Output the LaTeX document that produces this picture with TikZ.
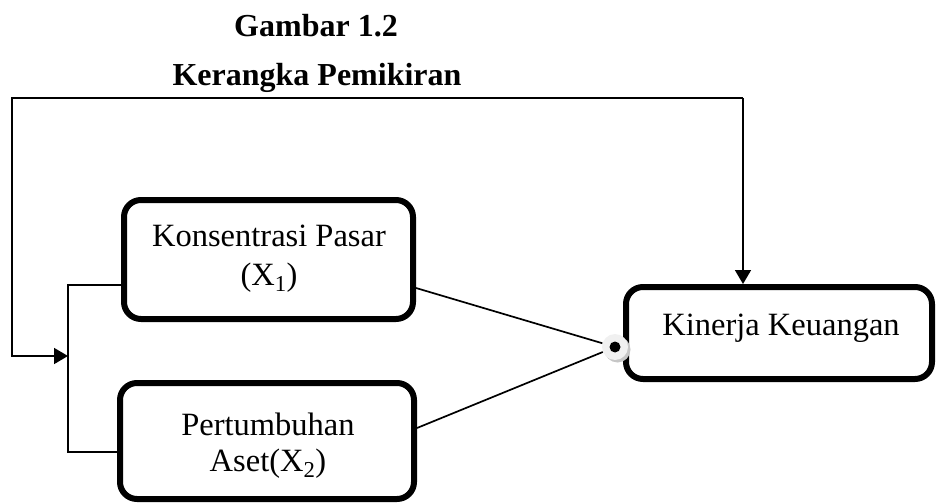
\documentclass[tikz,border=0pt]{standalone}
\usepackage{fontspec}
\setmainfont{Liberation Serif}
\usetikzlibrary{arrows.meta}
\tikzset{
  bigfont/.style={font=\fontsize{32.5}{38}\selectfont},
  box/.style={draw, line width=6pt, rounded corners=17pt, inner sep=0pt},
  txt/.style={bigfont, inner sep=0pt, anchor=base},
  ttl/.style={font=\fontsize{32}{38}\selectfont\bfseries, inner sep=0pt, anchor=base},
  conn/.style={line width=1.7pt},
  tip/.style={-{Triangle[length=14pt,width=16pt]}}
}
\begin{document}
\begin{tikzpicture}[x=1pt,y=-1pt]
\useasboundingbox (0,0) rectangle (938,503);
% titles
\node[ttl] (t1) at (316,37) {Gambar 1.2};
\node[ttl] (t2) at (317,86) {Kerangka Pemikiran};
% boxes
\node[box, minimum width=289pt, minimum height=119pt] (k1) at (268.5,259.5) {};
\node[box, minimum width=294pt, minimum height=116pt] (k2) at (267,441) {};
\node[box, minimum width=306pt, minimum height=92pt] (k3) at (779,333) {};
% texts
\node[txt] (k1a) at (269,246) {Konsentrasi Pasar};
\node[txt] (k1b) at (269,285) {(X\textsubscript{1})};
\node[txt] (k2a) at (268,435) {Pertumbuhan};
\node[txt] (k2b) at (268,471) {Aset(X\textsubscript{2})};
\node[txt] (k3a) at (781,335) {Kinerja Keuangan};
% coordinates
\coordinate (tr) at (743,98);
\coordinate (tl) at (12,98);
\coordinate (bl) at (12,356);
\coordinate (jn) at (68,356);
\coordinate (j1) at (68,285);
\coordinate (j2) at (68,452);
\coordinate (e1) at (0,288);
\coordinate (e2) at (0,428);
% feedback loop
\draw[conn, tip] (tr) -- (tr |- k3.north);
\draw[conn, tip] (tr) -- (tl) -- (bl) -- (jn);
% bracket
\draw[conn] (k1.west |- j1) -- (j1) -- (j2) -- (k2.west |- j2);
% dot
\node[circle, fill=gray!45, minimum size=26pt, inner sep=0pt] (dsh) at (617.5,349.5) {};
\node[circle, fill=gray!12, minimum size=26pt, inner sep=0pt] (dot) at (615,347) {};
\node[circle, fill=black, minimum size=11pt, inner sep=0pt] (dc) at (dot.center) {};
% lines to dot
\draw[conn] (k1.east |- e1) -- (dot);
\draw[conn] (k2.east |- e2) -- (dot);
\end{tikzpicture}
\end{document}
